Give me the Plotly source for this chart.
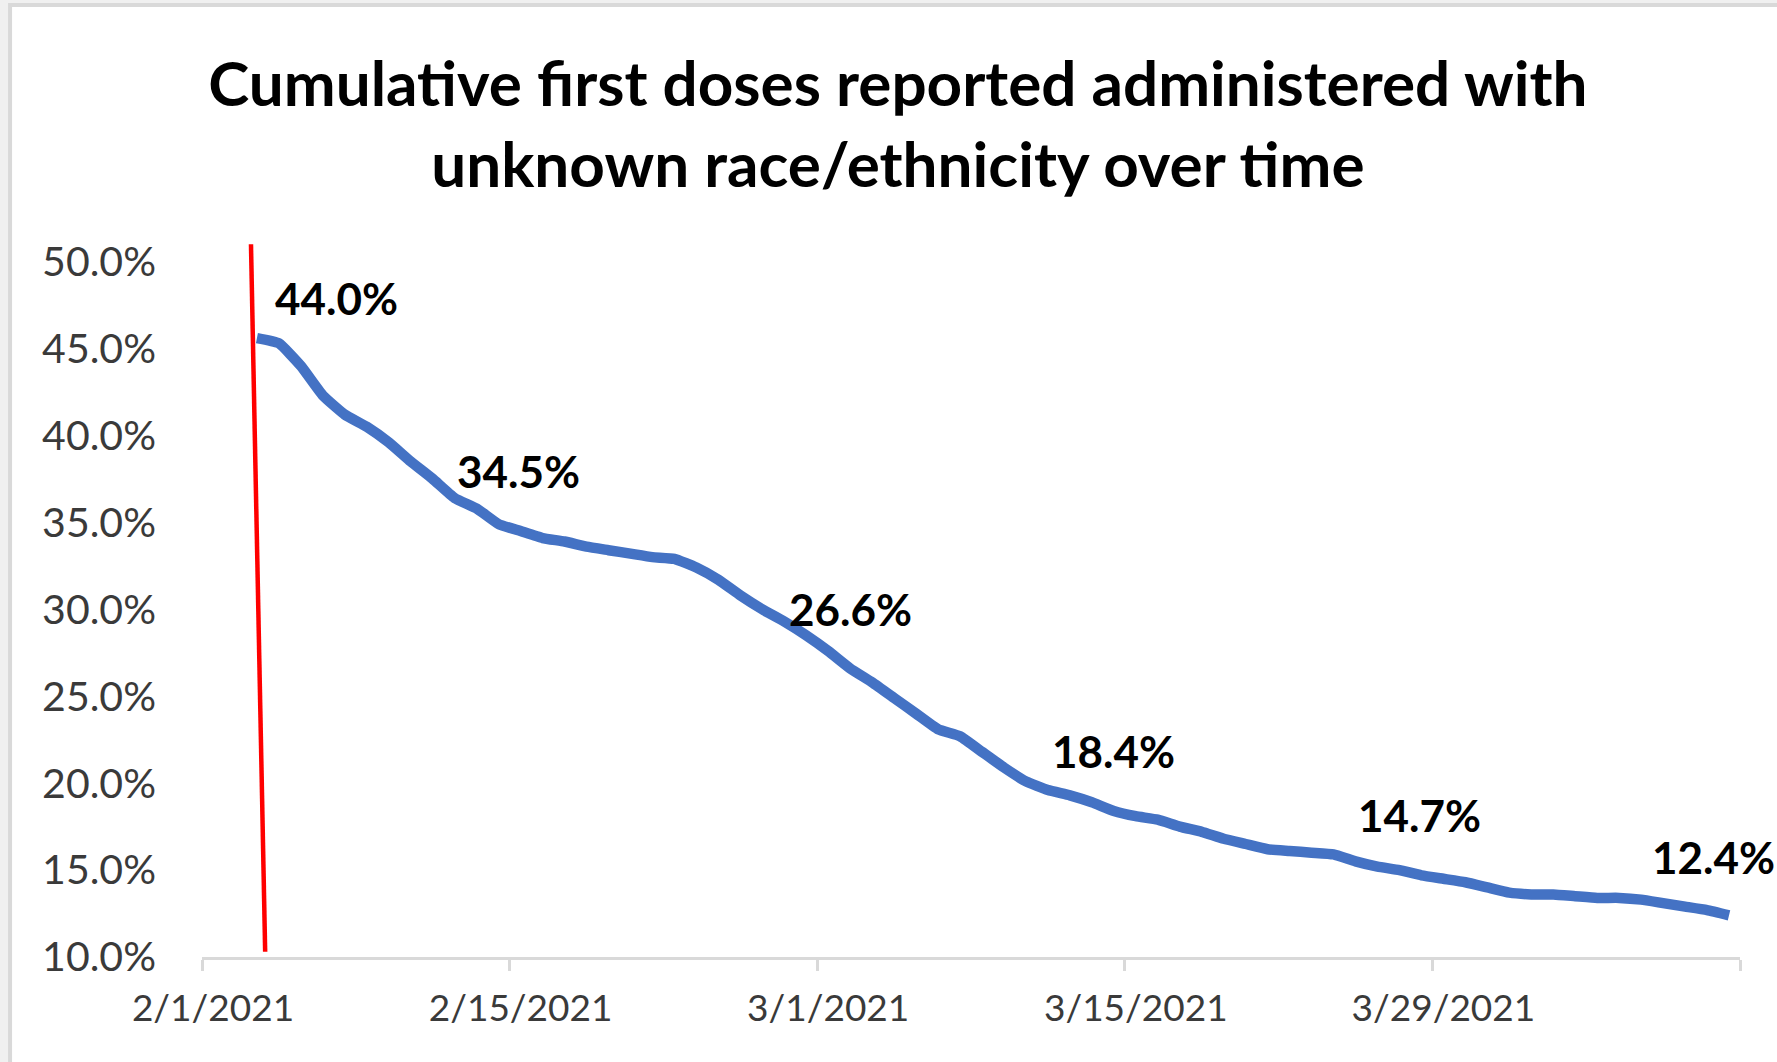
import pandas as pd
import plotly.graph_objects as go

# ---- data ----
start_date = "2021-02-03"
end_date = "2021-04-11"
unknown_pct = [
    45.6, 45.3, 44.0, 42.3, 41.2, 40.5, 39.6, 38.5, 37.5, 36.4,
    35.8, 34.9, 34.5, 34.1, 33.9, 33.6, 33.4, 33.2, 33.0, 32.9,
    32.4, 31.7, 30.8, 30.0, 29.3, 28.5, 27.6, 26.6, 25.8, 24.9,
    24.0, 23.1, 22.7, 21.8, 20.9, 20.1, 19.6, 19.3, 18.9, 18.4,
    18.1, 17.9, 17.5, 17.2, 16.8, 16.5, 16.2, 16.1, 16.0, 15.9,
    15.5, 15.2, 15.0, 14.7, 14.5, 14.3, 14.0, 13.7, 13.6, 13.6,
    13.5, 13.4, 13.4, 13.3, 13.1, 12.9, 12.7, 12.4,
]
label_dates = ["2021-02-05", "2021-02-15", "2021-03-02", "2021-03-14", "2021-03-28", "2021-04-11"]
tick_dates = ["2021-02-01", "2021-02-15", "2021-03-01", "2021-03-15", "2021-03-29", "2021-04-12"]
tick_text = ["2/1/2021", "2/15/2021", "3/1/2021", "3/15/2021", "3/29/2021", ""]
y_ticks = [10, 15, 20, 25, 30, 35, 40, 45, 50]
marker_date = "2021-02-03"

# ---- styling ----
label_xshift = [36, -2, 0, 0, -2, -16]
label_yshift = [68, 60, 59, 60, 60, 58]

dates = pd.date_range(start_date, end_date, freq="D")
assert len(dates) == len(unknown_pct)
half = pd.Timedelta(hours=12)
xs = dates + half
series = pd.Series(unknown_pct, index=dates)

FONT = "Lato"
fig = go.Figure()
fig.add_trace(go.Scatter(
    x=xs, y=unknown_pct, mode="lines",
    line=dict(color="#4472C4", width=10.5, shape="spline", smoothing=0.4),
    hoverinfo="skip", showlegend=False,
))

# data labels
for d, dx, dy in zip(label_dates, label_xshift, label_yshift):
    v = series[pd.Timestamp(d)]
    fig.add_annotation(
        x=pd.Timestamp(d) + half, y=v, xref="x", yref="y",
        text=f"<b>{v:.1f}%</b>", showarrow=False,
        xshift=dx, yshift=dy, xanchor="center", yanchor="middle",
        font=dict(family=FONT, size=44, color="#000000"),
    )

# chart frame
fig.add_shape(type="rect", xref="paper", yref="paper",
              x0=-0.1248, x1=1.04, y0=-0.2, y1=1.3259,
              fillcolor="white", line=dict(color="#d9d9d9", width=4), layer="below")

# red marker line
md = pd.Timestamp(marker_date)
fig.add_shape(type="line", xref="x", yref="y",
              x0=md + pd.Timedelta(hours=5.5), y0=51.0,
              x1=md + pd.Timedelta(hours=21), y1=10.3,
              line=dict(color="#FF0000", width=4.5))

fig.update_layout(
    width=1777, height=1062,
    margin=dict(l=202, r=37, t=239, b=105),
    paper_bgcolor="#f0f0f0", plot_bgcolor="white",
    title=dict(
        text="<b>Cumulative first doses reported administered with<br>unknown race/ethnicity over time</b>",
        x=0.5053, xref="container", xanchor="center",
        y=1 - 106 / 1062, yref="container", yanchor="middle",
        font=dict(family=FONT, size=62, color="#000000"),
    ),
    xaxis=dict(
        type="date",
        range=[pd.Timestamp(tick_dates[0]), pd.Timestamp(tick_dates[-1])],
        tickmode="array",
        tickvals=[pd.Timestamp(t) + half for t in tick_dates],
        ticktext=tick_text,
        ticks="", showgrid=False, zeroline=False,
        showline=True, linecolor="#d9d9d9", linewidth=3,
        tickfont=dict(family=FONT, size=37, color="#3a3a3a"),
        ticklabelstandoff=17,
        minor=dict(tickmode="array", tickvals=[pd.Timestamp(t) for t in tick_dates],
                   ticks="outside", ticklen=11, tickwidth=3, tickcolor="#d9d9d9",
                   showgrid=False),
    ),
    yaxis=dict(
        range=[10, 51.3],
        tickmode="array", tickvals=y_ticks,
        ticktext=[f"{t:.1f}%" for t in y_ticks],
        ticks="", showgrid=False, zeroline=False, showline=False,
        tickfont=dict(family=FONT, size=41, color="#3a3a3a"),
        ticklabelstandoff=45,
    ),
)

fig.write_html("out.html",
               config={"displayModeBar": False},
               post_script="document.body.style.margin='0px';document.body.style.overflow='hidden';")
